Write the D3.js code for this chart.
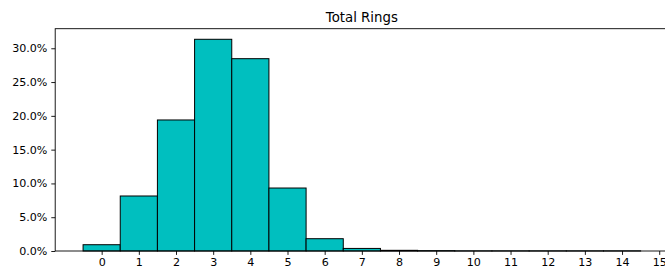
<!DOCTYPE html>
<html>
<head>
<meta charset="utf-8">
<script src="https://cdn.jsdelivr.net/npm/d3@7"></script>
<style>
  body { margin: 0; background: #fff; }
  svg { display: block; font-family: "DejaVu Sans", sans-serif; }
</style>
</head>
<body>
<div id="chart"></div>
<script>
// ring bins and share of records (percent)
var bins = [0, 1, 2, 3, 4, 5, 6, 7, 8, 9, 10, 11, 12, 13, 14];
var pct = [0.93, 8.14, 19.39, 31.33, 28.46, 9.32, 1.82, 0.38, 0.1, 0.05, 0.02, 0.02, 0.02, 0.02, 0.02];
var xTicks = [0, 1, 2, 3, 4, 5, 6, 7, 8, 9, 10, 11, 12, 13, 14, 15];
var yTicks = [0, 5, 10, 15, 20, 25, 30];

var width = 665, height = 269;
var plotLeft = 55.2, plotTop = 28.7, plotBottom = 251;
var unit = 37.17;

var svg = d3.select('#chart')
    .append('svg')
    .attr('width', width)
    .attr('height', height);

var x = d3.scaleLinear()
    .domain([-1.25, 15.25])
    .range([plotLeft, plotLeft + 16.5 * unit]);

var y = d3.scaleLinear()
    .domain([0, d3.max(pct) * 1.05])
    .range([plotBottom, plotTop]);

var fmt = d3.format(".1f");

// bars
svg.append("g")
    .selectAll("rect")
    .data(bins)
    .enter()
    .append("rect")
    .attr("x", (d) => x(d - 0.5))
    .attr("width", x(1) - x(0))
    .attr("y", (d, i) => y(pct[i]))
    .attr("height", (d, i) => y(0) - y(pct[i]))
    .attr("fill", "#00bfbf")
    .attr("stroke", "#000")
    .attr("stroke-width", 1);

// x axis
var xAxis = svg.append("g")
    .attr("transform", "translate(0," + plotBottom + ")")
    .call(d3.axisBottom(x).tickValues(xTicks).tickSize(3.9).tickPadding(3.2).tickFormat(d3.format("d")));

// y axis
var yAxis = svg.append("g")
    .attr("transform", "translate(" + plotLeft + ",0)")
    .call(d3.axisLeft(y).tickValues(yTicks).tickSize(3.9).tickPadding(3.9).tickFormat((d) => fmt(d) + "%"));

[xAxis, yAxis].forEach(function (g) {
    g.select(".domain").remove();
    g.selectAll(".tick line").attr("stroke", "#000").attr("stroke-width", 0.9);
    g.selectAll(".tick text")
        .attr("fill", "#000")
        .attr("font-size", 11.1)
        .attr("font-family", "DejaVu Sans, sans-serif");
});

// frame
svg.append("rect")
    .attr("x", x(-1.25))
    .attr("y", plotTop)
    .attr("width", x(15.25) - x(-1.25))
    .attr("height", plotBottom - plotTop)
    .attr("fill", "none")
    .attr("stroke", "#000")
    .attr("stroke-width", 0.9);

// title
svg.append("text")
    .attr("x", (x(-1.25) + x(15.25)) / 2)
    .attr("y", plotTop - 6.7)
    .attr("text-anchor", "middle")
    .attr("font-size", 13.3)
    .attr("fill", "#000")
    .text("Total Rings");
</script>
</body>
</html>
